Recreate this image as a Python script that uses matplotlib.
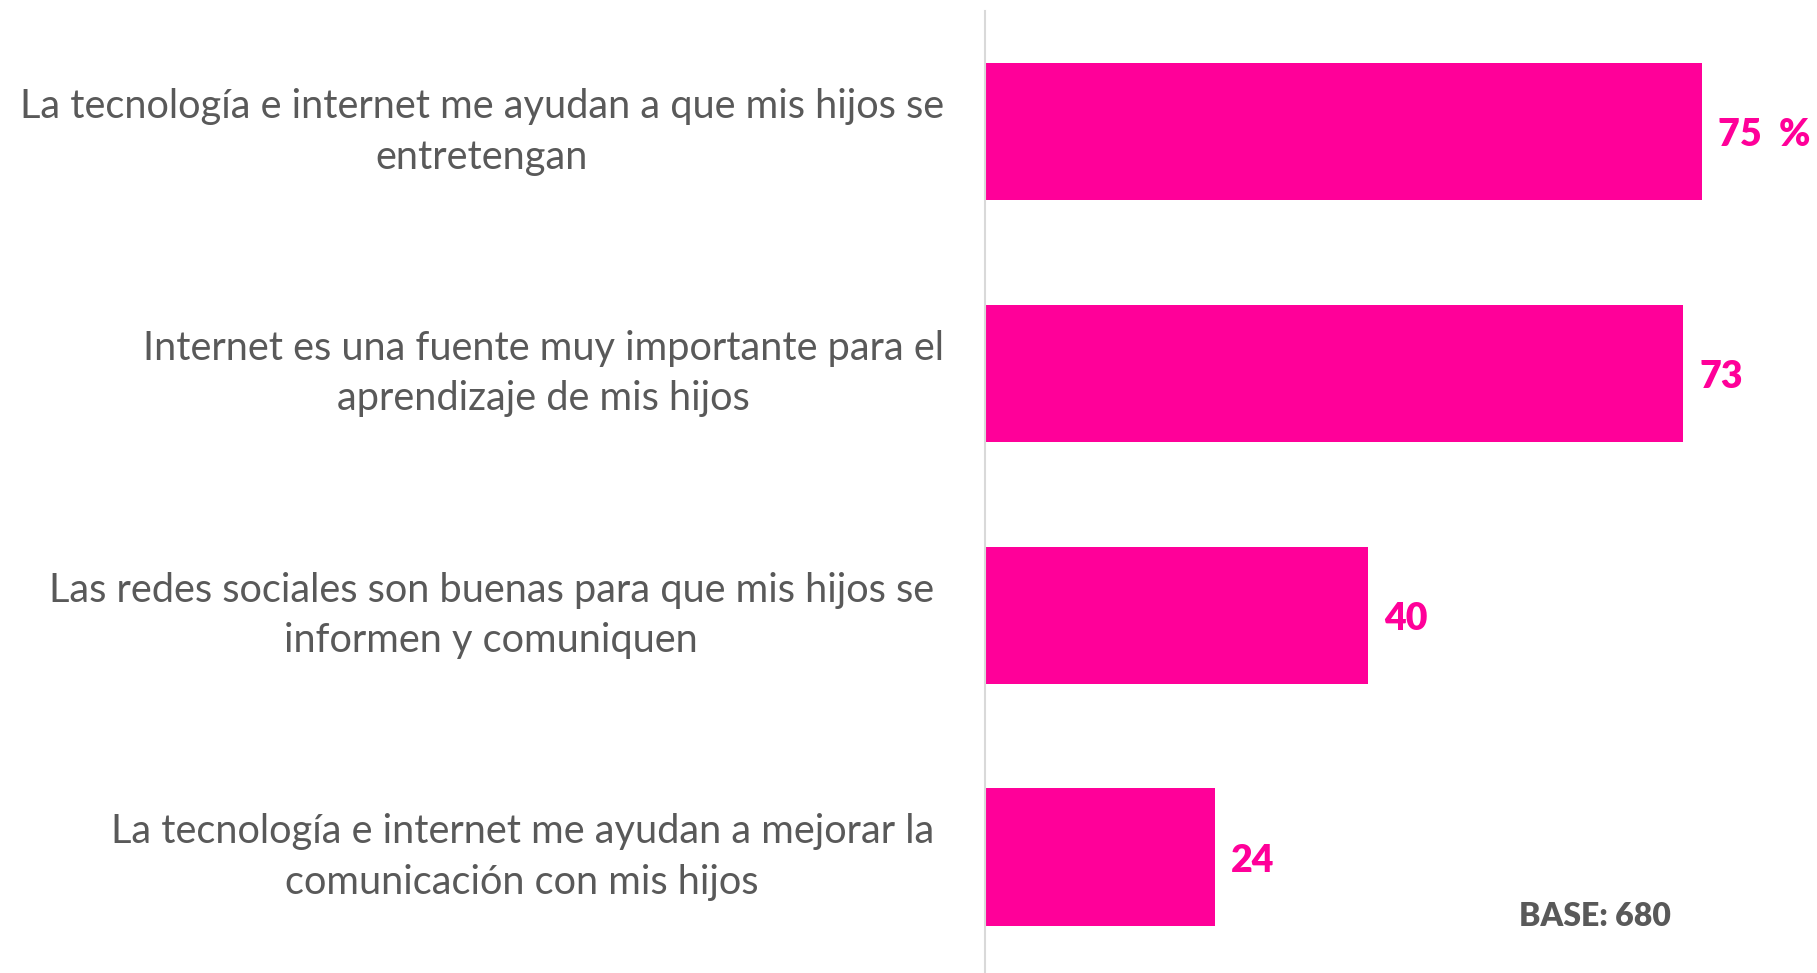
import matplotlib.pyplot as plt

plt.rcParams['font.family'] = ['Lato', 'DejaVu Sans']

categories = [
    "La tecnología e internet me ayudan a que mis hijos se\nentretengan",
    "Internet es una fuente muy importante para el\naprendizaje de mis hijos",
    "Las redes sociales son buenas para que mis hijos se \ninformen y comuniquen ",
    "La tecnología e internet me ayudan a mejorar la \ncomunicación con mis hijos ",
]
values = [75, 73, 40, 24]
value_labels = ["75 %", "73", "40", "24"]

pink = "#FF0099"
grey = "#595959"

fig = plt.figure(figsize=(18.17, 9.73), dpi=100)
ax = fig.add_axes([0.5421, 0.0, 0.4579, 0.9887])

ypos = list(range(len(values)))
ax.barh(ypos, values, height=0.567, color=pink)
ax.set_xlim(0, 87)
ax.set_ylim(3.48, -0.50)

for y, v, lab in zip(ypos, values, value_labels):
    ax.text(v + 1.7, y + 0.015, lab.replace(" ", "  "), color=pink, fontsize=27,
            fontweight='heavy', ha='left', va='center')

for y, cat in zip(ypos, categories):
    ax.annotate(cat, xy=(0, y), xycoords=('axes fraction', 'data'),
                xytext=(-41, 0), textcoords='offset pixels',
                ha='right', va='center', multialignment='center',
                fontsize=28.6, color=grey, linespacing=1.45)

ax.text(1595, 56, "BASE: 680", transform=None, ha='center', va='center',
        fontsize=23, fontweight='heavy', color=grey)

for s in ['top', 'right', 'bottom']:
    ax.spines[s].set_visible(False)
ax.spines['left'].set_color('#d9d9d9')
ax.spines['left'].set_linewidth(1.5)
ax.set_xticks([])
ax.set_yticks([])

fig.savefig("out.png", dpi=100)
